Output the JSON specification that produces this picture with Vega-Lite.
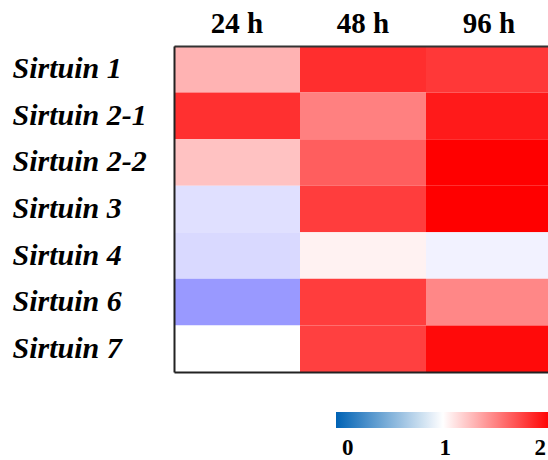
{
  "$schema": "https://vega.github.io/schema/vega-lite/v6.json",
  "width": 374,
  "height": 326,
  "autosize": {"type": "none"},
  "padding": {"left": 174, "top": 46, "right": 0, "bottom": 88},
  "background": "white",
  "config": {"view": {"stroke": null}, "font": "Liberation Serif"},
  "data": {
    "values": [
      {"gene": "Sirtuin 1", "time": "24 h", "value": 1.30},
      {"gene": "Sirtuin 1", "time": "48 h", "value": 1.82},
      {"gene": "Sirtuin 1", "time": "96 h", "value": 1.78},
      {"gene": "Sirtuin 2-1", "time": "24 h", "value": 1.81},
      {"gene": "Sirtuin 2-1", "time": "48 h", "value": 1.50},
      {"gene": "Sirtuin 2-1", "time": "96 h", "value": 1.90},
      {"gene": "Sirtuin 2-2", "time": "24 h", "value": 1.24},
      {"gene": "Sirtuin 2-2", "time": "48 h", "value": 1.63},
      {"gene": "Sirtuin 2-2", "time": "96 h", "value": 2.0},
      {"gene": "Sirtuin 3", "time": "24 h", "value": 0.88},
      {"gene": "Sirtuin 3", "time": "48 h", "value": 1.76},
      {"gene": "Sirtuin 3", "time": "96 h", "value": 2.0},
      {"gene": "Sirtuin 4", "time": "24 h", "value": 0.85},
      {"gene": "Sirtuin 4", "time": "48 h", "value": 1.05},
      {"gene": "Sirtuin 4", "time": "96 h", "value": 0.95},
      {"gene": "Sirtuin 6", "time": "24 h", "value": 0.60},
      {"gene": "Sirtuin 6", "time": "48 h", "value": 1.76},
      {"gene": "Sirtuin 6", "time": "96 h", "value": 1.47},
      {"gene": "Sirtuin 7", "time": "24 h", "value": 1.0},
      {"gene": "Sirtuin 7", "time": "48 h", "value": 1.75},
      {"gene": "Sirtuin 7", "time": "96 h", "value": 1.96}
    ]
  },
  "layer": [
    {
      "mark": {"type": "rect"},
      "encoding": {
        "x": {
          "field": "time", "type": "nominal", "sort": ["24 h", "48 h", "96 h"],
          "scale": {"range": [0, 378], "paddingInner": 0, "paddingOuter": 0},
          "axis": {"orient": "top", "title": null, "ticks": false, "tickSize": 0, "labelAngle": 0,
            "labelFont": "Liberation Serif", "labelFontWeight": "bold", "labelFontSize": 29,
            "labelColor": "black", "labelPadding": 8, "domain": true, "domainColor": "#333", "domainWidth": 2}
        },
        "y": {
          "field": "gene", "type": "nominal",
          "sort": ["Sirtuin 1", "Sirtuin 2-1", "Sirtuin 2-2", "Sirtuin 3", "Sirtuin 4", "Sirtuin 6", "Sirtuin 7"],
          "scale": {"paddingInner": 0, "paddingOuter": 0},
          "axis": {"orient": "left", "title": null, "ticks": false, "tickSize": 0, "labelAlign": "left",
            "labelPadding": 162, "labelFont": "Liberation Serif", "labelFontWeight": "bold",
            "labelFontStyle": "italic", "labelFontSize": 30, "labelColor": "black", "labelLimit": 300,
            "domain": true, "domainColor": "#222", "domainWidth": 2}
        },
        "color": {
          "field": "value", "type": "quantitative",
          "scale": {"domain": [0, 1, 2], "range": ["#0000ff", "#ffffff", "#ff0000"], "interpolate": "rgb"},
          "legend": null
        }
      }
    },
    {
      "mark": {"type": "rect", "fillOpacity": 0, "strokeOpacity": 0},
      "encoding": {
        "x": {
          "field": "time", "type": "nominal", "sort": ["24 h", "48 h", "96 h"],
          "axis": {"orient": "bottom", "title": null, "labels": false, "ticks": false, "tickSize": 0,
            "domain": true, "domainColor": "#222", "domainWidth": 2}
        },
        "y": {
          "field": "gene", "type": "nominal",
          "sort": ["Sirtuin 1", "Sirtuin 2-1", "Sirtuin 2-2", "Sirtuin 3", "Sirtuin 4", "Sirtuin 6", "Sirtuin 7"],
          "axis": {"orient": "left", "title": null, "ticks": false, "tickSize": 0, "labelAlign": "left",
            "labelPadding": 162, "labelFont": "Liberation Serif", "labelFontWeight": "bold",
            "labelFontStyle": "italic", "labelFontSize": 30, "labelColor": "black", "labelLimit": 300,
            "domain": true, "domainColor": "#222", "domainWidth": 2}
        },
        "color": {
          "field": "value", "type": "quantitative",
          "scale": {"domain": [0, 1, 2], "range": ["#0062b4", "#ffffff", "#ff0000"], "interpolate": "rgb"},
          "legend": {
            "orient": "none", "legendX": 162, "legendY": 366, "direction": "horizontal",
            "gradientLength": 214, "gradientThickness": 16, "gradientStrokeWidth": 0, "title": null,
            "labelFont": "Liberation Serif", "labelFontWeight": "bold", "labelFontSize": 23,
            "labelColor": "black", "labelOffset": 9, "values": [0.11, 1.02, 1.91],
            "labelExpr": "datum.value < 0.5 ? '0' : (datum.value > 1.5 ? '2' : '1')",
            "labelAlign": "center", "padding": 0,
            "encode": {"gradient": {"update": {"opacity": {"value": 1}}}}
          }
        }
      }
    }
  ],
  "resolve": {"scale": {"color": "independent"}, "axis": {"x": "independent"}}
}
